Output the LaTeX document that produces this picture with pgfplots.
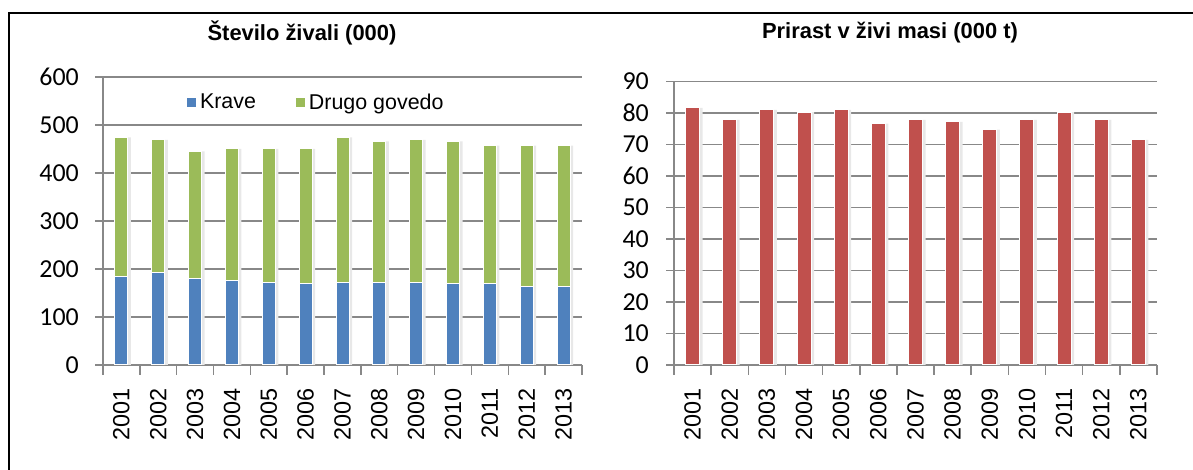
\documentclass[border=0pt]{standalone}
\usepackage{pgfplots}
\pgfplotsset{compat=1.18}
\usepackage{pgfplotstable}
\usepackage{fontspec}
\setmainfont{Liberation Sans}
\newfontfamily\carlito{Carlito}
\definecolor{cblue}{HTML}{4F81BD}
\definecolor{cgreen}{HTML}{9BBB59}
\definecolor{cred}{HTML}{C0504D}
\definecolor{cgrid}{HTML}{888888}

\pgfplotstableread{
year krave drugo
2001 185 289
2002 193 276
2003 180 265
2004 176 274
2005 172 278
2006 169 281
2007 172 302
2008 172 294
2009 172 297
2010 169 297
2011 169 288
2012 164 293
2013 164 293
}\govedo

\pgfplotstableread{
year prirast
2001 81.6
2002 77.8
2003 81.0
2004 80.3
2005 81.0
2006 76.6
2007 77.8
2008 77.2
2009 74.7
2010 77.8
2011 80.3
2012 77.8
2013 71.5
}\prirast

\pgfplotsset{mystyle/.style={
  scale only axis, anchor=south west,
  xmin=2000.5, xmax=2013.5,
  xtick={2001,...,2013},
  /pgf/number format/1000 sep={},
  minor xtick={2000.5,2001.5,...,2013.5},
  axis x line*=bottom, axis y line*=left,
  axis line style={draw=cgrid, line width=1.5bp, -},
  tick align=outside,
  major x tick style={draw=none},
  minor x tick style={draw=cgrid, line width=1.5bp},
  minor tick length=10bp,
  major tick length=8bp,
  major y tick style={draw=cgrid, line width=1.5bp},
  ymajorgrids, major grid style={draw=cgrid, line width=1.5bp},
  xticklabel style={rotate=90, anchor=east, inner sep=0pt, xshift=-15bp, font=\fontsize{23.5}{23.5}\selectfont},
  yticklabel style={anchor=east, inner sep=0pt, font=\carlito\fontsize{26}{26}\selectfont},
  /pgf/number format/assume math mode=true,
  ymin=0,
}}

\begin{document}
\begin{tikzpicture}[x=1bp, y=1bp]
\path[use as bounding box] (0,0) rectangle (1193,470);

% left chart
\begin{axis}[mystyle, at={(103bp,105bp)}, width=479bp, height=288bp,
  ymax=600, ytick={0,100,...,600},
  yticklabel style={xshift=-16bp},
  ybar, bar width=13bp,
  reverse legend, legend columns=2,
  legend style={draw=none, fill=none, inner sep=0pt, at={(0.175,0.913)}, anchor=west,
    font=\fontsize{21.5}{21.5}\selectfont,
    nodes={inner xsep=4bp, inner ysep=0pt},
    /tikz/every even column/.append style={column sep=36bp}},
  legend cell align=left]
\addplot[forget plot, bar shift=3bp, fill=black!9, draw=none] table[x=year, y expr=\thisrow{krave}+\thisrow{drugo}] {\govedo};
\addplot[bar shift=0pt, fill=cgreen, draw=white, line width=1bp,
  legend image code/.code={\fill[cgreen] (0bp,-4bp) rectangle (8bp,4bp);}] table[x=year, y expr=\thisrow{krave}+\thisrow{drugo}] {\govedo};
\addlegendentry{Drugo govedo}
\addplot[bar shift=0pt, fill=cblue, draw=white, line width=1bp,
  legend image code/.code={\fill[cblue] (0bp,-4bp) rectangle (8bp,4bp);}] table[x=year, y=krave] {\govedo};
\addlegendentry{Krave}
\end{axis}

% right chart
\begin{axis}[mystyle, at={(674bp,105bp)}, width=483bp, height=283.5bp,
  ymax=90, ytick={0,10,...,90},
  yticklabel style={xshift=-17bp},
  ybar, bar width=14bp]
\addplot[bar shift=3bp, fill=black!9, draw=none] table[x=year, y=prirast] {\prirast};
\addplot[bar shift=0pt, fill=cred, draw=white, line width=1bp] table[x=year, y=prirast] {\prirast};
\end{axis}

\node[font=\bfseries\fontsize{22}{22}\selectfont] at (302,437) {Število živali (000)};
\node[font=\bfseries\fontsize{22}{22}\selectfont] at (890,437) {Prirast v živi masi (000 t)};

\draw[line width=2bp] (9,-10) -- (9,457) -- (1210,457);
\end{tikzpicture}
\end{document}
